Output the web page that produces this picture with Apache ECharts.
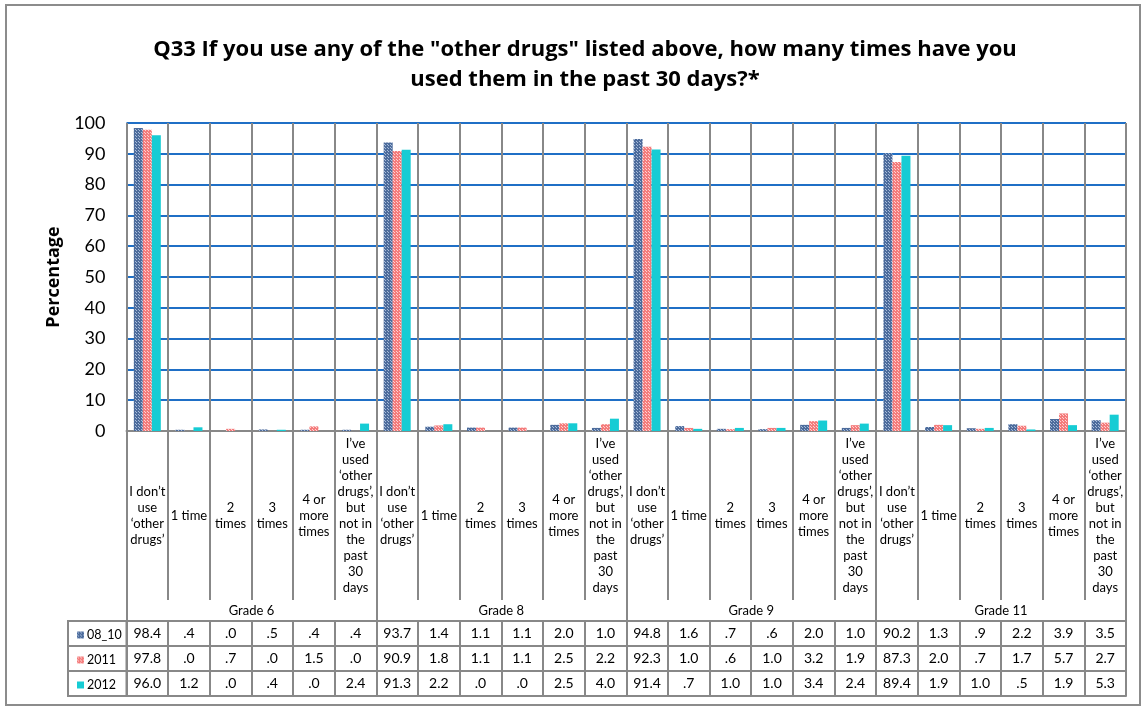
<!DOCTYPE html>
<html>
<head>
<meta charset="utf-8">
<script src="https://cdn.jsdelivr.net/npm/echarts@6/dist/echarts.min.js"></script>
<style>html,body{margin:0;padding:0;background:#fff}#c{width:1144px;height:709px}</style>
</head>
<body>
<div id="c"></div>
<script>
// ---- data ----
const titleText = 'Q33 If you use any of the "other drugs" listed above, how many times have you\nused them in the past 30 days?*';
const grades = ['Grade 6', 'Grade 8', 'Grade 9', 'Grade 11'];
const responses = [
  'I don’t\nuse\n‘other\ndrugs’',
  '1 time',
  '2\ntimes',
  '3\ntimes',
  '4 or\nmore\ntimes',
  'I’ve\nused\n‘other\ndrugs’,\nbut\nnot in\nthe\npast\n30\ndays'
];
const seriesNames = ['08_10', '2011', '2012'];
const s0810 = [98.4, 0.4, 0.0, 0.5, 0.4, 0.4,  93.7, 1.4, 1.1, 1.1, 2.0, 1.0,  94.8, 1.6, 0.7, 0.6, 2.0, 1.0,  90.2, 1.3, 0.9, 2.2, 3.9, 3.5];
const s2011 = [97.8, 0.0, 0.7, 0.0, 1.5, 0.0,  90.9, 1.8, 1.1, 1.1, 2.5, 2.2,  92.3, 1.0, 0.6, 1.0, 3.2, 1.9,  87.3, 2.0, 0.7, 1.7, 5.7, 2.7];
const s2012 = [96.0, 1.2, 0.0, 0.4, 0.0, 2.4,  91.3, 2.2, 0.0, 0.0, 2.5, 4.0,  91.4, 0.7, 1.0, 1.0, 3.4, 2.4,  89.4, 1.9, 1.0, 0.5, 1.9, 5.3];
const yTicks = [0, 10, 20, 30, 40, 50, 60, 70, 80, 90, 100];

// ---- derived ----
const seriesData = [s0810, s2011, s2012];
const cats = [];
grades.forEach(g => responses.forEach(r => cats.push(r)));
const catIdx = cats.map((_, i) => String(i));
const fmt = v => v.toFixed(1).replace(/^0\./, '.');

function pattern(bg, fg, size) {
  const c = document.createElement('canvas');
  c.width = size; c.height = size;
  const x = c.getContext('2d');
  x.fillStyle = bg; x.fillRect(0, 0, size, size);
  x.fillStyle = fg; x.fillRect(1, 1, 1, 1);
  x.fillRect(0, 0, 1, 1);
  return { image: c, repeat: 'repeat' };
}
const colors = [
  pattern('#4D6C9C', '#A8BCDA', 3),
  pattern('#F47C7C', '#FFD2D2', 3),
  '#16CCD4'
];

const FONT = 'Lato, "Open Sans", sans-serif';
const TFONT = '"Open Sans", Lato, sans-serif';
const GRID = { left: 126.5, right: 18, top: 123, bottom: 278 };
const gray = '#888888';
const LBL_H = 169, GRADE_H = 21, ROW_H = 25;

const xAxes = [
  {
    type: 'category', data: catIdx, position: 'bottom',
    axisLine: { show: true, lineStyle: { color: gray, width: 2 } },
    axisTick: { show: true, length: LBL_H, lineStyle: { color: gray, width: 2 } },
    splitLine: { show: true, lineStyle: { color: gray, width: 2 } },
    axisLabel: {
      interval: 0, margin: LBL_H / 2, verticalAlign: 'middle', align: 'center',
      fontFamily: FONT, fontSize: 13, lineHeight: 16, color: '#000',
      formatter: (v) => cats[+v]
    }
  },
  {
    type: 'category', data: grades, position: 'bottom', offset: LBL_H,
    axisLine: { show: false },
    axisTick: { show: true, length: GRADE_H, lineStyle: { color: gray, width: 2 } },
    axisLabel: { interval: 0, margin: GRADE_H / 2, verticalAlign: 'middle', fontFamily: FONT, fontSize: 13, color: '#000' }
  }
];
seriesData.forEach((arr, r) => {
  xAxes.push({
    type: 'category', data: catIdx, position: 'bottom', offset: LBL_H + GRADE_H + r * ROW_H,
    axisLine: { show: true, lineStyle: { color: gray, width: 2 } },
    axisTick: { show: true, length: ROW_H, lineStyle: { color: gray, width: 2 } },
    axisLabel: {
      interval: 0, margin: ROW_H / 2, verticalAlign: 'middle', fontFamily: FONT, fontSize: 14, color: '#000',
      formatter: (v) => fmt(arr[+v])
    }
  });
});
xAxes.push({
  type: 'category', data: catIdx, position: 'bottom', offset: LBL_H + GRADE_H + 3 * ROW_H,
  axisLine: { show: true, lineStyle: { color: gray, width: 2 } },
  axisTick: { show: false }, axisLabel: { show: false }
});

const tableTop = 431 + LBL_H + GRADE_H;
const legLeft = 68;
const legendCells = [0, 1, 2].map(r => ({
  type: 'rect',
  shape: { x: legLeft, y: tableTop + r * ROW_H, width: GRID.left - legLeft, height: ROW_H },
  style: { fill: 'none', stroke: gray, lineWidth: 2 }, silent: true
}));

const chart = echarts.init(document.getElementById('c'), null, { renderer: 'canvas' });
chart.setOption({
  backgroundColor: '#fff',
  animation: false,
  title: {
    text: titleText, left: 580, top: 30, textAlign: 'center',
    textStyle: { fontFamily: TFONT, fontWeight: 'bold', fontSize: 22, lineHeight: 30, color: '#000' }
  },
  legend: {
    orient: 'vertical', left: 72, top: tableTop + 2, itemWidth: 7, itemHeight: 7, itemGap: 11,
    icon: 'rect',
    textStyle: { fontFamily: FONT, fontSize: 12.5, color: '#000', lineHeight: 14, padding: [0, 0, 0, -2] },
    data: seriesNames
  },
  grid: GRID,
  xAxis: xAxes,
  yAxis: {
    type: 'value', min: 0, max: 100, interval: 10,
    name: 'Percentage', nameLocation: 'middle', nameGap: 62, nameRotate: 90,
    nameTextStyle: { fontFamily: TFONT, fontWeight: 'bold', fontSize: 18, color: '#000' },
    axisLine: { show: false }, axisTick: { show: false },
    axisLabel: { margin: 21, fontFamily: FONT, fontSize: 18, color: '#000',
      formatter: v => yTicks.includes(v) ? String(v) : '' },
    splitLine: { show: true, lineStyle: { color: '#1F6FC6', width: 2 } }
  },
  series: seriesNames.map((n, i) => ({
    name: n, type: 'bar', xAxisIndex: 0, data: seriesData[i],
    barWidth: 9, barGap: '0%',
    itemStyle: { color: colors[i] }
  })),
  graphic: legendCells.concat([{
    type: 'rect', shape: { x: 6, y: 5, width: 1134, height: 700 },
    style: { fill: 'none', stroke: '#8c8c8c', lineWidth: 2 }, silent: true
  }])
});
</script>
</body>
</html>
